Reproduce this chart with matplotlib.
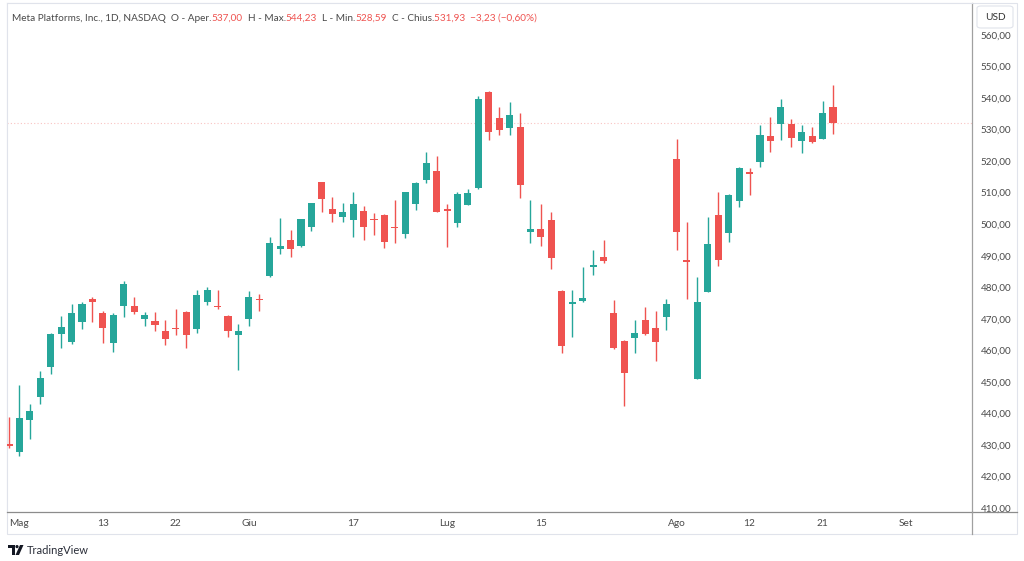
import matplotlib
matplotlib.use("Agg")
import matplotlib.pyplot as plt
from matplotlib.patches import FancyBboxPatch, Rectangle, Polygon, Ellipse
from matplotlib.lines import Line2D

# ---------------- data ----------------
opens = [430.5, 427.7, 437.9, 445.2, 454.6, 465.3, 462.7, 469.1, 476.3, 472.0,
         462.5, 474.1, 474.1, 470.0, 469.3, 466.3, 467.2, 472.1, 466.7, 475.5,
         474.1, 470.9, 465.0, 470.0, 476.4, 483.6, 492.1, 495.0, 493.0, 499.2,
         513.3, 504.8, 502.4, 501.3, 504.2, 501.8, 503.0, 499.0, 496.8, 506.4,
         514.0, 516.9, 504.7, 500.3, 506.1, 511.4, 542.0, 533.6, 530.4, 530.7,
         497.5, 498.4, 501.3, 478.8, 474.7, 475.7, 486.3, 489.5, 472.0, 463.0,
         463.8, 469.6, 467.0, 470.7, 520.7, 488.7, 450.9, 478.5, 502.9, 497.2,
         507.5, 516.7, 519.8, 527.8, 531.8, 531.7, 526.5, 528.0, 526.9, 537.00]
highs = [439.0, 449.2, 443.0, 453.5, 465.4, 470.9, 474.7, 475.2, 477.0, 472.4,
         471.8, 481.9, 476.8, 472.1, 472.3, 469.6, 473.0, 472.5, 479.1, 480.2,
         479.1, 471.2, 468.4, 478.8, 477.9, 495.9, 502.1, 498.2, 501.8, 506.8,
         513.5, 508.5, 506.8, 510.3, 505.9, 503.5, 503.2, 507.6, 510.3, 513.5,
         522.8, 521.7, 506.3, 510.1, 511.1, 540.7, 542.3, 537.3, 538.7, 535.2,
         507.7, 506.4, 503.8, 479.0, 479.1, 486.3, 491.8, 495.0, 476.0, 463.2,
         469.6, 473.8, 472.5, 476.3, 527.0, 500.8, 483.2, 502.3, 510.1, 509.7,
         518.0, 517.7, 531.4, 534.1, 539.7, 533.3, 531.4, 530.9, 539.2, 544.23]
lows = [429.2, 426.5, 431.8, 443.0, 452.6, 460.7, 462.0, 466.8, 468.9, 462.3,
        459.4, 470.7, 471.5, 467.9, 466.3, 461.6, 464.9, 460.8, 465.6, 474.4,
        473.0, 464.2, 453.8, 467.7, 472.5, 483.4, 490.5, 489.5, 492.8, 497.8,
        503.9, 500.7, 500.7, 495.9, 495.0, 496.6, 492.4, 494.2, 495.5, 504.5,
        513.0, 504.0, 492.9, 499.2, 506.0, 511.2, 526.7, 528.3, 528.3, 508.4,
        494.2, 493.2, 485.7, 459.1, 464.4, 475.5, 483.9, 487.6, 460.4, 442.4,
        459.1, 465.0, 456.5, 466.4, 491.8, 476.2, 450.8, 478.4, 486.8, 494.5,
        505.6, 509.1, 518.2, 523.0, 526.7, 524.6, 522.5, 525.6, 526.9, 528.59]
closes = [429.6, 438.5, 440.9, 451.2, 465.1, 467.4, 472.0, 474.6, 475.3, 467.0,
          471.1, 480.9, 472.2, 471.2, 468.1, 463.7, 466.8, 464.9, 477.5, 479.0,
          473.7, 466.3, 466.3, 476.8, 476.0, 494.1, 493.1, 492.1, 501.6, 506.6,
          507.9, 503.2, 503.9, 506.4, 499.2, 501.4, 494.4, 498.7, 510.3, 513.0,
          519.3, 504.0, 504.3, 509.5, 509.8, 539.7, 529.1, 529.9, 534.6, 512.4,
          498.5, 496.1, 489.4, 461.5, 475.5, 476.7, 487.1, 488.3, 460.9, 452.9,
          465.4, 465.2, 462.6, 474.6, 497.4, 488.0, 475.5, 493.8, 488.7, 509.4,
          517.7, 515.8, 528.3, 526.5, 537.1, 527.2, 529.1, 526.2, 535.16, 531.93]

tick_pos = [1, 9, 16, 23, 33, 42, 51, 64, 71, 78, 86]
tick_labels = ["Mag", "13", "22", "Giu", "17", "Lug", "15", "Ago", "12", "21", "Set"]
price_ticks = [410, 420, 430, 440, 450, 460, 470, 480, 490, 500,
               510, 520, 530, 540, 550, 560]

# ---------------- styling ----------------
UP = "#26a69a"
DOWN = "#ef5350"
TXT = "#4a4a4a"
plt.rcParams["font.family"] = ["Lato", "DejaVu Sans"]

W, H = 1024, 561
fig = plt.figure(figsize=(W / 100, H / 100), dpi=100)
fig.patch.set_facecolor("white")


def fx(px):
    return px / W


def fy(py):
    return 1 - py / H


ax = fig.add_axes([fx(7), fy(512), fx(972) - fx(7), fy(3) - fy(512)])
ax.set_facecolor("white")
ax.set_xlim(-0.19, 92.33)
ax.set_ylim(408.8, 570.1)

xs = list(range(len(opens)))
cols = [UP if c >= o else DOWN for o, c in zip(opens, closes)]
bottoms = []
heights = []
for o, c in zip(opens, closes):
    lo, hi = min(o, c), max(o, c)
    if hi - lo < 0.4:
        mid = (hi + lo) / 2
        lo, hi = mid - 0.2, mid + 0.2
    bottoms.append(lo)
    heights.append(hi - lo)

ax.vlines(xs, lows, highs, colors=cols, linewidth=1.0, zorder=2)
ax.bar(xs, heights, bottom=bottoms, width=0.68, color=cols, linewidth=0, zorder=3)

# last price line
ax.axhline(closes[-1], color=DOWN, alpha=0.35, linestyle=(0, (1, 2)), linewidth=0.8, zorder=1)

# axes
ax.yaxis.tick_right()
ax.set_yticks(price_ticks)
ax.set_yticklabels([f"{v:.2f}".replace(".", ",") for v in price_ticks])
ax.tick_params(axis="y", length=0, pad=6.3, labelsize=7.1, labelcolor=TXT)
ax.set_xticks(tick_pos)
ax.set_xticklabels(tick_labels)
ax.tick_params(axis="x", length=0, pad=5, labelsize=7.3, labelcolor=TXT)

for side in ("left", "top"):
    ax.spines[side].set_color("#e0e3eb")
    ax.spines[side].set_linewidth(0.8)
ax.spines["bottom"].set_color("#8c8c8c")
ax.spines["bottom"].set_linewidth(0.9)
ax.spines["right"].set_color("#a0a0a0")
ax.spines["right"].set_linewidth(0.9)

# extra frame lines
fig.add_artist(Line2D([fx(972), fx(1017)], [fy(512), fy(512)], color="#8c8c8c",
                      linewidth=0.9, transform=fig.transFigure))
fig.add_artist(Line2D([fx(972), fx(972)], [fy(512), fy(534)], color="#a0a0a0",
                      linewidth=0.9, transform=fig.transFigure))
fig.add_artist(Rectangle((fx(7), fy(534)), fx(1017) - fx(7), fy(3) - fy(534),
                         fill=False, edgecolor="#e0e3eb", linewidth=0.8,
                         transform=fig.transFigure, zorder=0))

# USD box
fig.add_artist(FancyBboxPatch((fx(977), fy(28)), fx(1013) - fx(977), fy(6) - fy(28),
                              boxstyle="round,pad=0,rounding_size=0.004",
                              facecolor="white", edgecolor="#e0e3eb", linewidth=0.8,
                              transform=fig.transFigure, zorder=10))
fig.text(fx(995), fy(17), "USD", ha="center", va="center", fontsize=7.3,
         color="#333333", zorder=11)

# header
chg = closes[-1] - closes[-2]
pct = chg / closes[-2] * 100


def fmt(v):
    return f"{v:.2f}".replace(".", ",").replace("-", "\u2212")


pieces = [
    ("Meta Platforms, Inc., 1D, NASDAQ  O - Aper.", TXT),
    (fmt(opens[-1]), DOWN),
    ("  H - Max.", TXT),
    (fmt(highs[-1]), DOWN),
    ("  L - Min.", TXT),
    (fmt(lows[-1]), DOWN),
    ("  C - Chius.", TXT),
    (f"{fmt(closes[-1])}  {fmt(chg)} ({fmt(pct)}%)", DOWN),
]
HFS = 7.2
last_art = None
for s, c in pieces:
    if last_art is None:
        last_art = fig.text(fx(12), fy(23), s, color=c, fontsize=HFS, va="bottom", ha="left")
    else:
        last_art = ax.annotate(s, xy=(1, 0), xycoords=last_art, color=c, fontsize=HFS,
                               va="bottom", ha="left", annotation_clip=False)

# TradingView logo
logo_col = "#131722"
fig.add_artist(Polygon([(fx(8), fy(545)), (fx(14.5), fy(545)), (fx(14.5), fy(555)),
                        (fx(11.5), fy(555)), (fx(11.5), fy(548)), (fx(8), fy(548))],
                       closed=True, facecolor=logo_col, edgecolor="none",
                       transform=fig.transFigure))
fig.add_artist(Ellipse((fx(17), fy(546.6)), fx(3.2), 1 - fy(3.2), facecolor=logo_col,
                       edgecolor="none", transform=fig.transFigure))
fig.add_artist(Polygon([(fx(20), fy(545)), (fx(23.5), fy(545)), (fx(19), fy(555)),
                        (fx(15.5), fy(555))], closed=True, facecolor=logo_col,
                       edgecolor="none", transform=fig.transFigure))
fig.text(fx(27), fy(550), "TradingView", fontsize=8, color="#2a2e39", va="center", ha="left")

fig.savefig("out.png", dpi=100, facecolor="white")
